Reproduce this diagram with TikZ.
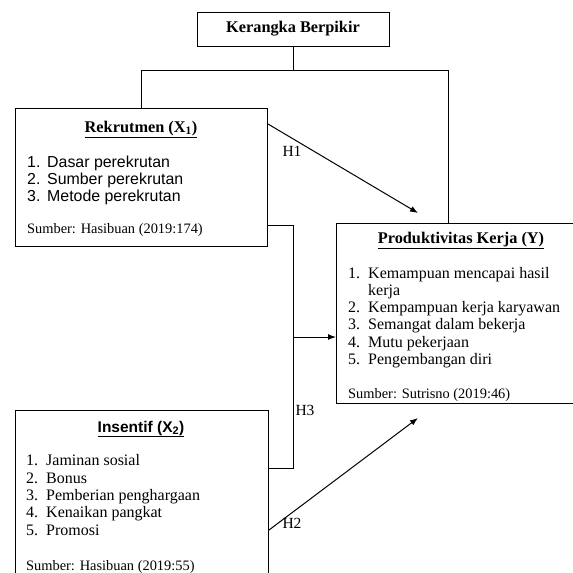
\documentclass[tikz,border=0pt]{standalone}
\usepackage{fontspec}
\setmainfont{Liberation Serif}
\setsansfont{Liberation Sans}
\usetikzlibrary{arrows.meta}
\usetikzlibrary{calc}

\newcommand\nr[1]{\makebox[20pt][l]{#1}}

\tikzset{
	box/.style={draw, line width=1pt, inner sep=0pt, anchor=north west},
	conn/.style={line width=1pt},
	arr/.style={conn, -{Latex[length=8pt,width=6pt]}},
	ttl/.style={font=\fontsize{16.3}{17}\selectfont\bfseries, inner sep=0pt, anchor=base},
	itm/.style={font=\fontsize{16}{17}\selectfont, inner sep=0pt, anchor=base west},
	src/.style={font=\fontsize{14.4}{17}\selectfont, inner sep=0pt, anchor=base west},
	lbl/.style={font=\fontsize{15.5}{17}\selectfont, inner sep=1pt}
}

\begin{document}
\begin{tikzpicture}[x=1pt, y=-1pt]
	\clip (0,0) rectangle (573,573);
	
	% top box
	\node[box, anchor=center, minimum width=192pt, minimum height=34pt, font=\fontsize{16.3}{17}\selectfont\bfseries] (ker) at (293,29) {Kerangka Berpikir};
	
	% boxes of the variables
	\node[box, minimum width=252pt, minimum height=138pt] (rek) at (15,108) {};
	\node[box, minimum width=245pt, minimum height=180pt] (prod) at (336,223) {};
	\node[box, minimum width=253pt, minimum height=175pt] (ins) at (15,410) {};
	
	% Rekrutmen (X1)
	\node[ttl] (rek-t) at (141,132) {\underline{Rekrutmen (X\textsubscript{1})}};
	\foreach \t [count=\i] in {Dasar perekrutan, Sumber perekrutan, Metode perekrutan}
		\node[itm, font=\fontsize{15.9}{17}\selectfont\sffamily] (rek-\i) at (27,150+17*\i) {\nr{\i.}\t};
	\node[src] (rek-s) at (27,233) {Sumber: Hasibuan (2019:174)};
	
	% Produktivitas Kerja (Y)
	\node[ttl] (prod-t) at (461,243) {\underline{Produktivitas Kerja (Y)}};
	\foreach \n/\t/\yy [count=\i] in {1./Kemampuan mencapai hasil/278, /kerja/295, 2./Kempampuan kerja karyawan/312, 3./Semangat dalam bekerja/329.5, 4./Mutu pekerjaan/347, 5./Pengembangan diri/364}
		\node[itm] (prod-\i) at (348,\yy) {\nr{\n}\t};
	\node[src] (prod-s) at (348,398) {Sumber: Sutrisno (2019:46)};
	
	% Insentif (X2)
	\node[ttl, font=\fontsize{15.5}{17}\selectfont\sffamily\bfseries] (ins-t) at (141,432) {\underline{Insentif (X\textsubscript{2})}};
	\foreach \t [count=\i] in {Jaminan sosial, Bonus, Pemberian penghargaan, Kenaikan pangkat, Promosi}
		\node[itm] (ins-\i) at (26,448.5+17.3*\i) {\nr{\i.}\t};
	\node[src] (ins-s) at (26,570) {Sumber: Hasibuan (2019:55)};
	
	% lines from the top box
	\draw[conn] (ker.south) -- ++(0,24) coordinate (kj);
	\draw[conn] (kj) -| (rek.north);
	\coordinate (pt) at ($(prod.north west)+(112,0)$);
	\draw[conn] (kj) -| (pt);
	
	% H1
	\coordinate (h1s) at ($(rek.north east)+(0,16)$);
	\coordinate (h1e) at ($(prod.north west)+(82,-10)$);
	\draw[arr] (h1s) -- (h1e);
	\node[lbl] (h1) at (292,151) {H1};
	
	% H3 (both together)
	\coordinate (b1) at ($(rek.south east)+(0,-22)$);
	\coordinate (b2) at ($(ins.north east)+(0,58)$);
	\draw[conn] (b1) -- ++(25,0) coordinate (b1r) |- (b2);
	\coordinate (bm) at ($(b1r)+(0,112)$);
	\draw[arr] (bm) -- (bm -| prod.west);
	\node[lbl] (h3) at (305,410) {H3};
	
	% H2
	\coordinate (h2s) at ($(ins.north east)+(0,120)$);
	\coordinate (h2e) at ($(prod.south west)+(82,14)$);
	\draw[arr] (h2s) -- (h2e);
	\node[lbl] (h2) at (292,523) {H2};
\end{tikzpicture}
\end{document}
